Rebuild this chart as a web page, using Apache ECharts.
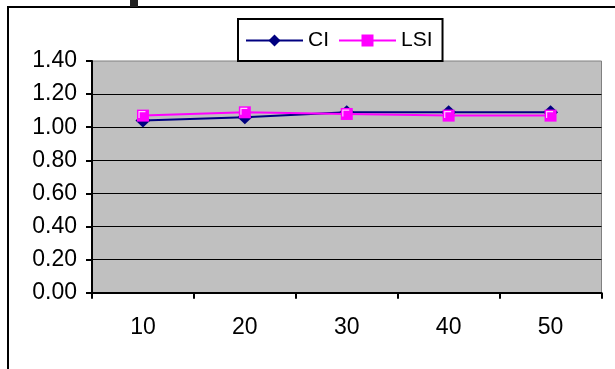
<!DOCTYPE html>
<html>
<head>
<meta charset="utf-8">
<script src="https://cdn.jsdelivr.net/npm/echarts@6/dist/echarts.min.js"></script>
<style>
html,body{margin:0;padding:0;background:#fff;}
#c{width:615px;height:369px;}
</style>
</head>
<body>
<div id="c"></div>
<script>
var categories = ['10', '20', '30', '40', '50'];
var ciValues = [1.04, 1.06, 1.09, 1.09, 1.09];
var lsiValues = [1.07, 1.09, 1.08, 1.07, 1.07];
var seriesNames = ['CI', 'LSI'];

var chart = echarts.init(document.getElementById('c'), null, {renderer: 'canvas'});
var font = 'Liberation Sans, Arial, sans-serif';
chart.setOption({
  animation: false,
  backgroundColor: '#fff',
  graphic: [
    {type: 'rect', shape: {x: 8, y: 7, width: 800, height: 500}, style: {fill: 'none', stroke: '#000', lineWidth: 2}, z: 100},
    {type: 'rect', shape: {x: 130, y: 0, width: 8, height: 7}, style: {fill: '#222'}, z: 100}
  ],
  legend: {
    data: seriesNames,
    left: 238, top: 19,
    orient: 'horizontal',
    backgroundColor: '#fff',
    borderColor: '#000', borderWidth: 2, borderRadius: 0,
    padding: [11, 10, 10, 7],
    itemWidth: 57, itemHeight: 15, itemGap: 9,
    textStyle: {fontFamily: font, fontSize: 21, color: '#000'}
  },
  grid: {
    left: 92, right: 13.5, top: 61, bottom: 76.3,
    show: true, backgroundColor: '#C0C0C0', borderColor: '#808080', borderWidth: 1
  },
  xAxis: {
    type: 'category', data: categories, boundaryGap: true,
    axisLine: {lineStyle: {color: '#000', width: 2}},
    axisTick: {show: true, length: 6, lineStyle: {color: '#000', width: 2}},
    axisLabel: {color: '#000', fontFamily: font, fontSize: 23, margin: 23},
    splitLine: {show: false}
  },
  yAxis: {
    type: 'value', min: 0, max: 1.4, interval: 0.2,
    axisLine: {show: true, lineStyle: {color: '#000', width: 2}},
    axisTick: {show: true, length: 6, lineStyle: {color: '#000', width: 2}},
    axisLabel: {color: '#000', fontFamily: font, fontSize: 23, margin: 15, padding: [5, 0, 0, 0],
      formatter: function (v) { return v.toFixed(2); }},
    splitLine: {show: true, showMinLine: false, showMaxLine: false, lineStyle: {color: '#000', width: 1}}
  },
  series: [
    {name: 'CI', type: 'line', data: ciValues, symbol: 'diamond', symbolSize: [15, 14],
      lineStyle: {color: '#000080', width: 2}, itemStyle: {color: '#000080'}, z: 2},
    {name: 'LSI', type: 'line', data: lsiValues, symbol: 'rect', symbolSize: 12,
      lineStyle: {color: '#FF00FF', width: 2}, itemStyle: {color: '#FF00FF'}, z: 3},
    {name: 'LSI-mark', type: 'line', data: lsiValues, symbol: 'path://M0 0H6V1H1V6H0Z', symbolSize: 7,
      symbolOffset: [-1, -1], lineStyle: {width: 0, opacity: 0}, itemStyle: {color: '#FFD0FF'},
      silent: true, z: 4}
  ]
});
</script>
</body>
</html>
